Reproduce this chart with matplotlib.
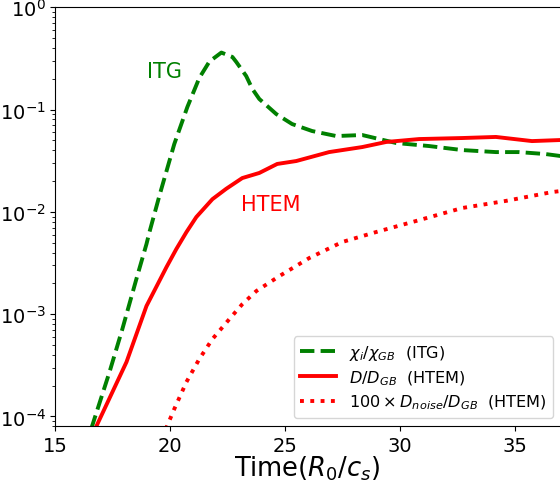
import matplotlib
matplotlib.use("Agg")
import matplotlib.pyplot as plt

# chi_i / chi_GB (ITG)
itg_t = [16.55, 17.35, 17.91, 18.52, 18.96, 19.09, 19.52, 20.17, 20.74, 21.26, 21.7,
         22.22, 22.7, 22.87, 23.3, 23.57, 23.87, 24.61, 25.3, 26.17, 27.22, 28.35,
         29.09, 29.83, 31.26, 32.7, 34.17, 35.17, 36.35, 37.0]
itg_chi = [7.5e-5, 2.71e-4, 7.14e-4, 2.2e-3, 4.84e-3, 6.34e-3, 0.0143, 0.046, 0.106, 0.204, 0.295,
           0.361, 0.327, 0.292, 0.213, 0.159, 0.127, 0.0904, 0.0722, 0.0617, 0.0551, 0.0564,
           0.0515, 0.0471, 0.044, 0.0402, 0.0384, 0.0384, 0.0367, 0.0351]

# D / D_GB (HTEM)
htem_t = [16.72, 18.09, 18.96, 19.83, 20.26, 20.7, 21.13, 21.83, 22.43, 23.13, 23.87,
          24.65, 25.48, 26.91, 28.35, 29.39, 30.83, 32.7, 34.17, 35.74, 37.0]
htem_d = [7.5e-5, 3.4e-4, 1.2e-3, 2.88e-3, 4.33e-3, 6.34e-3, 8.9e-3, 0.0133, 0.0168, 0.0214, 0.024,
          0.0294, 0.0314, 0.0384, 0.043, 0.0482, 0.0515, 0.0527, 0.054, 0.0492, 0.0504]

# 100 x D_noise / D_GB (HTEM)
noise_t = [19.8, 20.17, 20.7, 21.26, 21.83, 22.57, 23.13, 23.74, 24.74, 26.04, 27.48,
           28.96, 30.83, 32.7, 34.61, 36.61, 37.0]
noise_d = [7.5e-5, 1.18e-4, 2.17e-4, 3.64e-4, 5.7e-4, 8.95e-4, 1.25e-3, 1.68e-3, 2.35e-3,
           3.53e-3, 5.07e-3, 6.35e-3, 8.3e-3, 0.0109, 0.0128, 0.0156, 0.016]

fig = plt.figure(figsize=(5.6, 4.89), dpi=100)
ax = fig.add_axes([0.0991, 0.1262, 0.9009, 0.8568])

ax.plot(itg_t, itg_chi, color="green", ls="--", lw=2.8, label=r"$\chi_i/\chi_{GB}$  (ITG)")
ax.plot(htem_t, htem_d, color="red", ls="-", lw=2.8, label=r"$D/D_{GB}$  (HTEM)")
ax.plot(noise_t, noise_d, color="red", ls=":", lw=2.8, label=r"$100\times D_{noise}/D_{GB}$  (HTEM)")

ax.set_yscale("log")
ax.set_xlim(15, 36.96)
ax.set_ylim(8.0e-5, 1)
ax.set_xticks([15, 20, 25, 30, 35])
ax.tick_params(labelsize=14)
ax.spines["right"].set_visible(False)

ax.text(19.74, 0.238, "ITG", color="green", fontsize=15, ha="center", va="center")
ax.text(24.35, 0.0119, "HTEM", color="red", fontsize=15, ha="center", va="center")

ax.set_xlabel(r"Time$(R_0/c_s)$", fontsize=18.5)
ax.xaxis.set_label_coords(0.5, -0.065)
ax.legend(loc="lower right", fontsize=11.6, handlelength=2.2, labelspacing=0.4,
          bbox_to_anchor=(0.986, 0.02), borderaxespad=0)

fig.savefig("out.png", dpi=100)
